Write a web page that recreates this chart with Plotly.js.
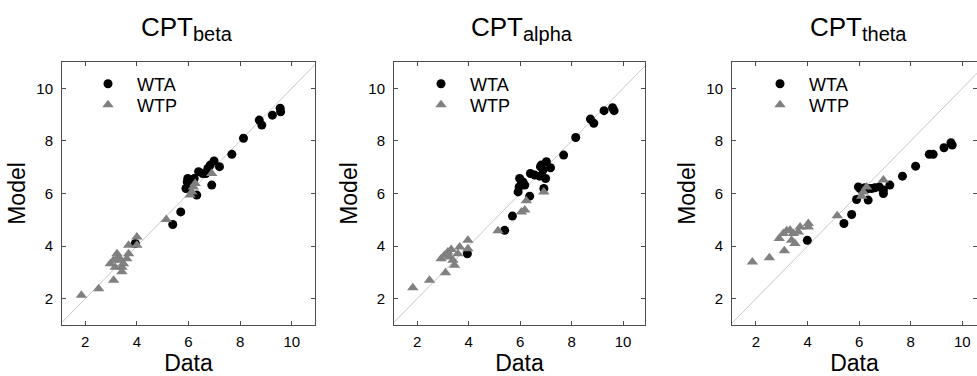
<!DOCTYPE html>
<html>
<head>
<meta charset="utf-8">
<script src="https://cdn.plot.ly/plotly-3.0.1.min.js"></script>
<style>html,body{margin:0;padding:0;background:#fff;}#chart{width:977px;height:376px;}</style>
</head>
<body>
<div id="chart"></div>
<script>
// ---------- data ----------
const panelTitleMain = ["CPT", "CPT", "CPT"];
const panelTitleSub = ["beta", "alpha", "theta"];
const seriesNames = ["WTA", "WTP"];
const tickVals = [2, 4, 6, 8, 10];
const identityLine = [0, 12];

// Panel 1: CPT beta
const betaWtaData  = [9.55, 9.57, 9.25, 8.74, 8.84, 8.13, 7.68, 7.20, 6.99, 6.84, 6.75, 6.67, 6.39, 6.55, 5.97, 5.95, 6.02, 5.90, 6.15, 6.22, 6.90, 6.32, 5.70, 5.39, 3.94];
const betaWtaModel = [9.24, 9.11, 8.98, 8.79, 8.60, 8.10, 7.49, 7.02, 7.24, 7.08, 6.95, 6.76, 6.83, 6.76, 6.57, 6.44, 6.32, 6.19, 6.44, 6.57, 6.32, 5.94, 5.30, 4.82, 4.10];
const betaWtpData  = [1.85, 2.52, 3.10, 2.97, 3.10, 3.23, 3.29, 3.35, 3.42, 3.42, 3.16, 3.48, 3.61, 3.68, 3.68, 4.00, 4.00, 5.14, 6.06, 6.13, 6.19, 6.26, 6.90];
const betaWtpModel = [2.13, 2.38, 2.70, 3.33, 3.46, 3.71, 3.59, 3.46, 3.20, 3.02, 3.20, 3.33, 3.52, 3.71, 4.03, 4.35, 4.03, 5.01, 5.94, 6.06, 6.25, 6.38, 6.76];

// Panel 2: CPT alpha
const alphaWtaData  = [9.59, 9.65, 9.26, 8.73, 8.86, 8.16, 7.69, 7.18, 7.02, 6.82, 6.79, 6.89, 6.40, 6.57, 6.76, 6.99, 5.98, 6.05, 5.96, 5.92, 6.11, 6.18, 6.92, 6.37, 5.70, 5.40, 3.95];
const alphaWtaModel = [9.26, 9.15, 9.15, 8.83, 8.67, 8.13, 7.46, 6.98, 7.21, 7.08, 7.02, 6.89, 6.76, 6.70, 6.66, 6.57, 6.57, 6.38, 6.25, 6.06, 6.44, 6.32, 6.19, 5.90, 5.14, 4.60, 3.71];
const alphaWtpData  = [1.83, 2.48, 3.10, 2.93, 3.06, 3.19, 3.32, 3.26, 3.39, 3.45, 3.58, 3.65, 3.97, 3.97, 5.14, 6.05, 6.18, 6.24, 6.92];
const alphaWtpModel = [2.42, 2.70, 2.99, 3.52, 3.65, 3.78, 3.87, 3.59, 3.46, 3.27, 3.71, 3.97, 4.22, 3.90, 4.58, 5.30, 5.37, 5.72, 6.06];

// Panel 3: CPT theta
const thetaWtaData  = [9.56, 9.61, 9.29, 8.72, 8.87, 8.19, 7.68, 7.19, 6.94, 6.94, 6.78, 6.61, 6.48, 6.35, 6.22, 6.03, 5.97, 5.90, 6.35, 5.71, 5.41, 3.99];
const thetaWtaModel = [7.93, 7.84, 7.74, 7.49, 7.49, 7.04, 6.66, 6.32, 6.13, 6.00, 6.25, 6.22, 6.19, 6.19, 6.22, 6.19, 6.25, 5.77, 5.75, 5.20, 4.86, 4.22];
const thetaWtpData  = [1.86, 2.52, 3.10, 2.90, 3.06, 3.19, 3.32, 3.45, 3.38, 3.51, 3.64, 3.71, 4.03, 4.03, 5.15, 6.10, 6.16, 6.29, 6.94];
const thetaWtpModel = [3.40, 3.56, 3.82, 4.29, 4.48, 4.58, 4.60, 4.48, 4.22, 4.10, 4.54, 4.73, 4.86, 4.73, 5.15, 5.90, 6.06, 6.25, 6.51];

const panels = [
  {wta: [betaWtaData, betaWtaModel], wtp: [betaWtpData, betaWtpModel]},
  {wta: [alphaWtaData, alphaWtaModel], wtp: [alphaWtpData, alphaWtpModel]},
  {wta: [thetaWtaData, thetaWtaModel], wtp: [thetaWtpData, thetaWtpModel]}
];

// ---------- layout geometry ----------
const W = 977, H = 376;
const xPix = [[62, 315], [394, 645], [732, 977]];
const xRanges = [[1.1, 10.9], [1.1, 10.85], [1.07, 10.57]];
const yPix = [62, 325];
const legendSymbolX = [105, 438, 777];
const legendRowY = [84, 105];
const titleCenterX = [187, 522, 858];
const FONT = "Liberation Sans, Arial, Helvetica, sans-serif";
const frameColor = "#4d4d4d";

const traces = [];
const layout = {
  width: W, height: H,
  margin: {l: 0, r: 0, t: 0, b: 0},
  paper_bgcolor: "#fff", plot_bgcolor: "#fff",
  font: {family: FONT, color: "#000", size: 15},
  showlegend: true,
  annotations: []
};

let legCount = 0;
function makeLegend(i, row) {
  legCount += 1;
  const key = legCount === 1 ? "legend" : "legend" + legCount;
  layout[key] = {
    x: (legendSymbolX[i] - 26) / W, y: 1 - legendRowY[row] / H,
    xanchor: "left", yanchor: "middle",
    bgcolor: "rgba(0,0,0,0)", borderwidth: 0,
    font: {family: FONT, size: 18, color: "#000"},
    itemwidth: 48
  };
  return key;
}

panels.forEach((p, i) => {
  const n = i === 0 ? "" : String(i + 1);
  const xa = "x" + n, ya = "y" + n;
  const legA = makeLegend(i, 0);
  const legB = makeLegend(i, 1);
  traces.push({
    x: identityLine, y: identityLine, xaxis: xa, yaxis: ya,
    mode: "lines", line: {color: "#c8c8c8", width: 1},
    showlegend: false, hoverinfo: "skip", legend: legA
  });
  traces.push({
    x: p.wta[0], y: p.wta[1], xaxis: xa, yaxis: ya, name: seriesNames[0],
    mode: "markers", type: "scatter", legend: legA,
    marker: {symbol: "circle", size: 9, color: "#000"}
  });
  traces.push({
    x: p.wtp[0], y: p.wtp[1], xaxis: xa, yaxis: ya, name: seriesNames[1],
    mode: "markers", type: "scatter", legend: legB,
    marker: {symbol: "triangle-up", size: 10, color: "#808080"}
  });

  const axCommon = {
    showgrid: false, zeroline: false, showline: true, linecolor: frameColor, linewidth: 1,
    mirror: "allticks", ticks: "inside", ticklen: 4, tickcolor: frameColor, tickwidth: 1,
    tickvals: tickVals, ticktext: tickVals.map(String),
    tickfont: {family: FONT, size: 15, color: "#000"}, fixedrange: true
  };
  layout["xaxis" + n] = Object.assign({}, axCommon, {
    domain: [xPix[i][0] / W, xPix[i][1] / W],
    range: xRanges[i], anchor: ya,
    title: {text: "Data", font: {family: FONT, size: 23, color: "#000"}, standoff: 4},
    ticklabelstandoff: 3
  });
  layout["yaxis" + n] = Object.assign({}, axCommon, {
    domain: [1 - yPix[1] / H, 1 - yPix[0] / H],
    range: [1, 11], anchor: xa,
    title: {text: "Model", font: {family: FONT, size: 23, color: "#000"}, standoff: 4},
    ticklabelstandoff: 5
  });
  layout.annotations.push({
    text: panelTitleMain[i] + "<sub><span style=\"font-size:20px\">" + panelTitleSub[i] + "</span></sub>",
    xref: "paper", yref: "paper",
    x: titleCenterX[i] / W, y: 1 - 47 / H,
    xanchor: "center", yanchor: "bottom", showarrow: false,
    font: {family: FONT, size: 26, color: "#000"}
  });
});

Plotly.newPlot("chart", traces, layout, {displayModeBar: false, staticPlot: true});
</script>
</body>
</html>
